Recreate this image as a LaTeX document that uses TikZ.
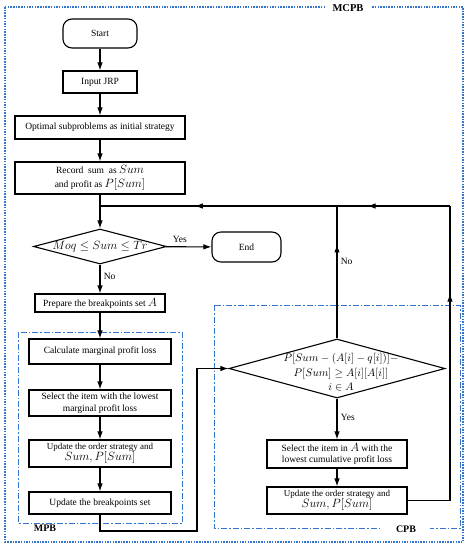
\documentclass[tikz,border=0pt]{standalone}
\usepackage{amsmath}
\usepackage{fontspec}
\setmainfont{Liberation Serif}
\usepackage{tikz}
\usetikzlibrary{shapes,arrows.meta,decorations.markings}
\definecolor{boxblue}{RGB}{52,116,206}
\newcommand{\mth}[1]{{\fontsize{11.5}{13}\selectfont$#1$}}
\tikzstyle{proc}=[draw,line width=1.1pt,align=center,inner sep=1pt]
\tikzstyle{term}=[draw,line width=1.1pt,rounded corners=9pt]
\tikzstyle{decision}=[draw,diamond,line width=1.1pt,inner sep=0pt]
\tikzstyle{wide}=[minimum width=170pt]
\tikzstyle{mpbw}=[minimum width=142pt]
\tikzstyle{cpbw}=[minimum width=140pt]
\tikzstyle{flow}=[line width=1.1pt]
\tikzstyle{arrowflow}=[flow,-{Latex[length=8pt,width=5.5pt]}]
\tikzstyle{outerbox}=[draw=boxblue,line width=1.5pt,dash pattern=on 1.5pt off 1.2pt]
\tikzstyle{innerbox}=[draw=boxblue,line width=1pt,dash pattern=on 6pt off 2pt on 1.5pt off 2pt]
\tikzstyle{blocklabel}=[fill=white,inner sep=1pt,font=\bfseries\fontsize{10}{12}\selectfont]
\tikzset{midarrow/.style={postaction={decorate},decoration={markings,mark=at position #1 with {\arrow{Latex[length=8pt,width=5.5pt]}}}}}

\begin{document}
\begin{tikzpicture}[x=1pt,y=-1pt,font=\fontsize{9.5}{11.5}\selectfont]
\useasboundingbox (0,0) rectangle (469,550);
% blocks
\draw[outerbox] (5,7) rectangle (463,542);
\draw[innerbox] (18,332) rectangle (182,523);
\draw[innerbox] (214,305) rectangle (460,528);
\node[blocklabel,minimum width=46pt,font=\bfseries\fontsize{10.5}{12}\selectfont] (mcpb) at (348,8) {MCPB};
\node[blocklabel,minimum width=52pt] (mpb) at (45,528) {MPB};
\node[blocklabel,minimum width=48pt] (cpb) at (406,529) {CPB};

% main line
\node[term,minimum width=74pt,minimum height=29pt] (start) at (100,33.5) {Start};
\node[proc,minimum width=74pt,minimum height=22pt] (inp) at (100,82) {Input JRP};
\node[proc,wide,minimum height=23pt] (opt) at (100,127.5) {Optimal subproblems as initial strategy};
\node[proc,wide,minimum height=32pt] (rec) at (100,178) {Record~ sum~ as \mth{Sum}\\[2pt]and profit as \mth{P[Sum]}};
\node[decision,minimum width=133pt,minimum height=35pt,label={center:{\mth{Moq\leq Sum\leq Tr}}}] (cond) at (100,246.5) {};
\node[term,minimum width=69pt,minimum height=30pt] (stop) at (246.5,247) {End};
\node[proc,minimum width=130pt,minimum height=18pt] (prep) at (100,303) {Prepare the breakpoints set \mth{A}};

% MPB
\node[proc,mpbw,minimum height=25pt] (calc) at (100,351.5) {Calculate marginal profit loss};
\node[proc,mpbw,minimum height=26pt] (pick) at (100,403) {Select the item with the lowest\\marginal profit loss};
\node[proc,mpbw,minimum height=27pt] (upd) at (100,453.5) {{\fontsize{9}{11}\selectfont Update the order strategy and}\\\mth{Sum,P[Sum]}};
\node[proc,mpbw,minimum height=22pt] (brk) at (100,503) {Update the breakpoints set};

% CPB
\node[decision,minimum width=216pt,minimum height=59pt,label={[xshift=4pt,yshift=-4pt,align=center,font=\fontsize{11}{14.5}\selectfont]center:{$P[Sum-(A[i]-q[i])]-$\\$P[Sum]\geq A[i][A[i]]$\\$i\in A$}}] (cdec) at (337,368.5) {};
\node[proc,cpbw,minimum height=28pt] (cpick) at (337,454) {Select the item in \mth{A} with the\\lowest cumulative profit loss};
\node[proc,cpbw,minimum height=27pt] (cupd) at (337,500.5) {{\fontsize{9}{11}\selectfont Update the order strategy and}\\\mth{Sum,P[Sum]}};

\coordinate (jn) at (100,206);
\coordinate (jc) at (337,206);
\coordinate (jr) at (450,206);
\coordinate (lp) at (197,531);

% connectors
\draw[arrowflow] (start) -- (inp);
\draw[arrowflow] (inp) -- (opt);
\draw[arrowflow] (opt) -- (rec);
\draw[arrowflow] (rec) -- (cond);
\draw[arrowflow] (cond) -- node[above,pos=0.3]{Yes} (stop);
\draw[arrowflow] (cond) -- node[right,pos=0.4]{No} (prep);
\draw[arrowflow] (prep) -- (calc);
\draw[arrowflow] (calc) -- (pick);
\draw[arrowflow] (pick) -- (upd);
\draw[arrowflow] (upd) -- (brk);
\draw[arrowflow] (brk) |- (lp) |- (cdec);
\draw[arrowflow] (cdec) -- node[right,pos=0.45]{Yes} (cpick);
\draw[arrowflow] (cpick) -- (cupd);
\draw[flow,midarrow=0.74] (cupd) -| (jr);
\draw[flow,midarrow=0.73] (jr) -- (jc);
\draw[flow,midarrow=0.6] (jc) -- (jn);
\draw[flow,midarrow=0.71] (cdec) -- node[right,pos=0.58]{No} (jc);
\end{tikzpicture}
\end{document}
